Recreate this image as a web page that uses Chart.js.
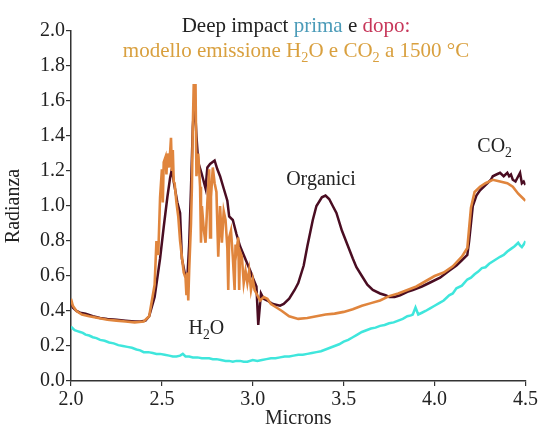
<!DOCTYPE html>
<html><head><meta charset="utf-8">
<script src="https://cdn.jsdelivr.net/npm/chart.js@4.4.1/dist/chart.umd.min.js"></script>
<style>html,body{margin:0;padding:0;background:#fff}#wrap{width:540px;height:429px}</style>
</head><body><div id="wrap"><canvas id="c" width="540" height="429"></canvas></div>
<script>
// Deep Impact "dopo" (after) spectrum
const dopoX = [2.0,2.01,2.03,2.05,2.08,2.12,2.16,2.2,2.25,2.3,2.35,2.38,2.41,2.43,2.46,2.49,2.51,2.53,2.545,2.555,2.565,2.57,2.585,2.6,2.61,2.625,2.64,2.65,2.66,2.67,2.68,2.69,2.70,2.72,2.74,2.75,2.765,2.79,2.805,2.82,2.84,2.86,2.87,2.89,2.91,2.93,2.95,2.97,2.99,3.00,3.02,3.03,3.045,3.06,3.08,3.11,3.15,3.17,3.20,3.23,3.25,3.28,3.30,3.33,3.35,3.38,3.40,3.42,3.44,3.46,3.49,3.52,3.55,3.57,3.60,3.63,3.66,3.70,3.73,3.75,3.78,3.81,3.85,3.88,3.93,3.97,4.03,4.08,4.12,4.15,4.18,4.19,4.20,4.21,4.23,4.25,4.27,4.29,4.31,4.32,4.34,4.36,4.38,4.40,4.41,4.42,4.43,4.445,4.46,4.47,4.48,4.49,4.5];
const dopoY = [0.45,0.42,0.40,0.39,0.385,0.37,0.36,0.355,0.35,0.345,0.34,0.34,0.345,0.37,0.48,0.70,0.88,1.05,1.16,1.21,1.14,1.11,1.02,0.96,0.70,0.62,0.59,0.78,1.10,1.45,1.61,1.40,1.25,1.18,1.10,1.22,1.24,1.26,1.21,1.17,1.10,1.03,0.94,0.92,0.84,0.77,0.72,0.67,0.62,0.59,0.54,0.32,0.50,0.47,0.46,0.44,0.43,0.44,0.47,0.52,0.56,0.66,0.77,0.92,1.00,1.05,1.06,1.04,1.00,0.96,0.86,0.78,0.70,0.65,0.60,0.55,0.52,0.50,0.49,0.48,0.48,0.49,0.51,0.52,0.54,0.56,0.59,0.63,0.66,0.69,0.72,0.80,0.90,1.00,1.06,1.09,1.11,1.13,1.15,1.17,1.18,1.19,1.17,1.19,1.17,1.18,1.15,1.14,1.17,1.19,1.13,1.14,1.12];

// Model: H2O + CO2 emission at 1500 °C
const modelX = [2.0,2.01,2.03,2.06,2.1,2.15,2.2,2.25,2.3,2.35,2.4,2.43,2.46,2.47,2.48,2.49,2.50,2.505,2.51,2.52,2.525,2.53,2.54,2.55,2.555,2.56,2.565,2.57,2.58,2.59,2.60,2.61,2.62,2.63,2.635,2.64,2.645,2.65,2.66,2.665,2.67,2.675,2.685,2.69,2.70,2.71,2.715,2.72,2.73,2.74,2.75,2.76,2.765,2.77,2.78,2.79,2.80,2.81,2.82,2.83,2.84,2.85,2.86,2.865,2.87,2.88,2.89,2.90,2.905,2.91,2.92,2.925,2.93,2.94,2.95,2.96,2.97,2.98,2.99,3.00,3.01,3.02,3.04,3.06,3.08,3.10,3.13,3.16,3.20,3.25,3.30,3.35,3.40,3.45,3.50,3.55,3.60,3.65,3.70,3.75,3.80,3.85,3.90,3.95,4.00,4.05,4.10,4.15,4.18,4.20,4.22,4.25,4.28,4.32,4.36,4.40,4.43,4.46,4.48,4.50];
const modelY = [0.47,0.43,0.40,0.38,0.37,0.36,0.35,0.345,0.34,0.335,0.34,0.37,0.55,0.80,0.72,1.05,1.21,1.02,1.25,1.28,1.18,1.30,1.22,1.39,1.20,1.32,1.14,1.13,1.02,0.94,0.80,0.71,0.62,0.59,0.49,0.62,0.46,0.63,0.90,1.11,1.45,1.69,1.69,1.17,1.30,1.11,0.79,1.00,0.87,0.79,1.02,1.21,0.82,1.05,1.22,1.13,1.08,0.71,1.00,0.79,0.97,0.92,0.76,0.52,0.82,0.86,0.71,0.52,0.78,0.74,0.82,0.52,0.74,0.71,0.56,0.63,0.56,0.63,0.52,0.58,0.52,0.50,0.46,0.48,0.47,0.44,0.42,0.40,0.37,0.355,0.36,0.37,0.38,0.385,0.395,0.41,0.43,0.445,0.46,0.485,0.50,0.52,0.54,0.57,0.60,0.62,0.655,0.71,0.76,0.99,1.08,1.11,1.13,1.15,1.14,1.13,1.11,1.07,1.05,1.03];

// Deep Impact "prima" (before) spectrum
const primaX = [2.0,2.01,2.02,2.035,2.05,2.065,2.08,2.1,2.12,2.14,2.16,2.185,2.21,2.235,2.26,2.285,2.31,2.335,2.36,2.38,2.40,2.425,2.45,2.47,2.49,2.515,2.54,2.56,2.58,2.60,2.615,2.63,2.65,2.67,2.695,2.72,2.74,2.76,2.78,2.80,2.825,2.85,2.87,2.89,2.91,2.93,2.95,2.97,3.00,3.025,3.05,3.075,3.10,3.125,3.15,3.175,3.20,3.225,3.25,3.275,3.30,3.325,3.35,3.375,3.40,3.425,3.45,3.475,3.50,3.525,3.55,3.575,3.60,3.625,3.65,3.675,3.70,3.725,3.75,3.775,3.80,3.825,3.85,3.87,3.88,3.895,3.91,3.93,3.95,3.975,4.00,4.025,4.05,4.08,4.10,4.12,4.15,4.18,4.20,4.22,4.24,4.26,4.28,4.30,4.33,4.36,4.38,4.40,4.42,4.44,4.46,4.47,4.48,4.49,4.50];
const primaY = [0.31,0.30,0.29,0.285,0.28,0.275,0.265,0.26,0.25,0.245,0.235,0.23,0.22,0.215,0.205,0.20,0.195,0.19,0.18,0.175,0.165,0.165,0.16,0.155,0.155,0.15,0.145,0.14,0.14,0.145,0.155,0.14,0.14,0.135,0.135,0.13,0.13,0.13,0.125,0.125,0.12,0.115,0.115,0.11,0.115,0.115,0.11,0.11,0.12,0.115,0.12,0.125,0.13,0.13,0.135,0.14,0.14,0.145,0.15,0.15,0.155,0.16,0.165,0.17,0.18,0.19,0.20,0.21,0.225,0.235,0.25,0.265,0.28,0.29,0.30,0.305,0.315,0.32,0.33,0.335,0.345,0.355,0.37,0.375,0.38,0.42,0.38,0.39,0.40,0.415,0.43,0.445,0.46,0.49,0.50,0.53,0.545,0.58,0.59,0.61,0.625,0.645,0.65,0.67,0.69,0.71,0.72,0.74,0.755,0.77,0.79,0.775,0.765,0.78,0.80];

const xTicks = [2.0,2.5,3.0,3.5,4.0,4.5];
const yTicks = [0.0,0.2,0.4,0.6,0.8,1.0,1.2,1.4,1.6,1.8,2.0];

const titleLine1 = [["Deep impact ","#222222"],["prima","#4b9bb8"],[" e ","#222222"],["dopo:","#c7375a"]];
const titleLine2 = [["modello emissione H","#d9a03f"],["2","#d9a03f",true],["O e CO","#d9a03f"],["2","#d9a03f",true],[" a 1500 °C","#d9a03f"]];
const noteH2O = [["H","#222"],["2","#222",true],["O","#222"]];
const noteOrg = [["Organici","#222"]];
const noteCO2 = [["CO","#222"],["2","#222",true]];
const notes = [[noteH2O,2.745,0.31],[noteOrg,3.375,1.16],[noteCO2,4.33,1.35]];

const SERIF = '"Liberation Serif","DejaVu Serif",serif';
function pts(xs, ys){ return xs.map((x,i)=>({x:x,y:ys[i]})); }

function drawRich(ctx, segs, cx, baseY, size){
  let total = 0;
  const ws = segs.map(s=>{ ctx.font = (s[2]? size*0.68 : size)+'px '+SERIF; const w = ctx.measureText(s[0]).width; total += w; return w; });
  let x = cx - total/2;
  ctx.textBaseline = 'alphabetic'; ctx.textAlign = 'left';
  segs.forEach((s,i)=>{
    ctx.font = (s[2]? size*0.68 : size)+'px '+SERIF;
    ctx.fillStyle = s[1];
    ctx.fillText(s[0], x, baseY + (s[2]? size*0.26 : 0));
    x += ws[i];
  });
}

const textPlugin = {
  id:'texts',
  afterDraw(chart){
    const ctx = chart.ctx; ctx.save();
    drawRich(ctx, titleLine1, 296, 32, 21);
    drawRich(ctx, titleLine2, 296, 57, 21);
    const xs = chart.scales.x, ys = chart.scales.y;
    notes.forEach(n=>{
      drawRich(ctx, n[0], xs.getPixelForValue(n[1]), ys.getPixelForValue(n[2]) + 7, 20);
    });
    ctx.restore();
  }
};

new Chart(document.getElementById('c'), {
  type:'line',
  data:{ datasets:[
    {label:'prima', data:pts(primaX,primaY), borderColor:'#3fe6dc', borderWidth:2.5, pointRadius:0, tension:0},
    {label:'modello', data:pts(modelX,modelY), borderColor:'#e0853d', borderWidth:2.6, pointRadius:0, tension:0},
    {label:'dopo', data:pts(dopoX,dopoY), borderColor:'#4a0d22', borderWidth:2.5, pointRadius:0, tension:0}
  ]},
  options:{
    responsive:false, animation:false, devicePixelRatio:1,
    layout:{padding:{top:31,right:14,left:0,bottom:0}},
    plugins:{legend:{display:false}, tooltip:{enabled:false}},
    scales:{
      x:{type:'linear', min:2, max:4.5,
        afterBuildTicks(s){ s.ticks = xTicks.map(v=>({value:v})); },
        afterFit(s){ s.height = 48; },
        ticks:{font:{family:SERIF,size:20}, color:'#222', padding:2, maxRotation:0, callback:v=>v.toFixed(1)},
        grid:{drawOnChartArea:false, drawTicks:true, tickLength:5, color:'#333', lineWidth:1.2},
        border:{display:true, color:'#333', width:1.5},
        title:{display:true, text:'Microns', font:{family:SERIF,size:20, lineHeight:1}, color:'#222', padding:{top:0,bottom:0}}
      },
      y:{type:'linear', min:0, max:2,
        afterBuildTicks(s){ s.ticks = yTicks.map(v=>({value:v})); },
        afterFit(s){ s.width = 71; },
        ticks:{font:{family:SERIF,size:20}, color:'#222', padding:1, callback:v=>v.toFixed(1)},
        grid:{drawOnChartArea:false, drawTicks:true, tickLength:5, color:'#333', lineWidth:1.2},
        border:{display:true, color:'#333', width:1.5},
        title:{display:true, text:'Radianza', font:{family:SERIF,size:20, lineHeight:1}, color:'#222', padding:{top:4,bottom:0}}
      }
    }
  },
  plugins:[textPlugin]
});
</script>
</body></html>
